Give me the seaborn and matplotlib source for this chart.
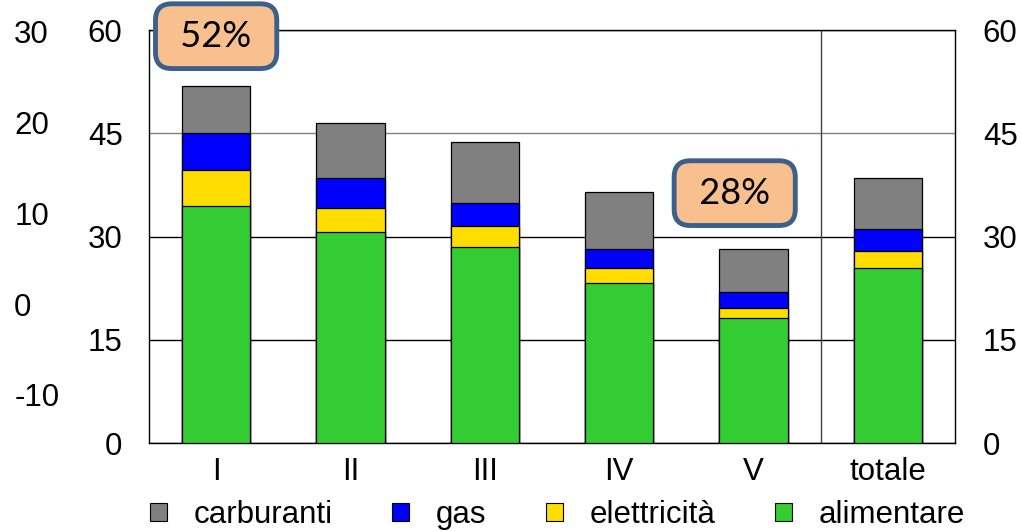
import numpy as np
import pandas as pd
import matplotlib
matplotlib.use("Agg")
import matplotlib.pyplot as plt
import seaborn as sns
from matplotlib.patches import Patch

# data (stacked components, in order bottom -> top)
quintili = ['I', 'II', 'III', 'IV', 'V', 'totale']
alimentare = [34.4, 30.6, 28.5, 23.2, 18.1, 25.4]
elettricita = [5.3, 3.6, 3.0, 2.2, 1.5, 2.5]
gas = [5.3, 4.3, 3.4, 2.8, 2.3, 3.2]
carburanti = [6.8, 8.0, 8.8, 8.2, 6.3, 7.4]

left_ticks = [0, 15, 30, 45, 60]
outer_ticks = [-10, 0, 10, 20, 30]
callouts = [('52%', 0, 59.1), ('28%', 3.86, 36.3)]

colors = {'carburanti': '#808080', 'gas': '#0000FF',
          'elettricità': '#FFDD00', 'alimentare': '#33CC33'}

sns.set_style("white")
plt.rcParams['font.family'] = ['Liberation Sans', 'DejaVu Sans']
plt.rcParams['axes.unicode_minus'] = False
plt.rcParams['text.color'] = 'black'
plt.rcParams['xtick.color'] = 'black'
plt.rcParams['ytick.color'] = 'black'

FS = 22.5

df = pd.DataFrame({'quintile': quintili, 'alimentare': alimentare,
                   'elettricità': elettricita, 'gas': gas, 'carburanti': carburanti})
# cumulative tops, drawn tallest first so each layer covers the one below
df['c_alim'] = df['alimentare']
df['c_elet'] = df['c_alim'] + df['elettricità']
df['c_gas'] = df['c_elet'] + df['gas']
df['c_carb'] = df['c_gas'] + df['carburanti']

fig = plt.figure(figsize=(10.21, 5.31), dpi=100)
ax = fig.add_axes([0.1459, 0.1657, 0.7895, 0.7778])

for col, name in [('c_carb', 'carburanti'), ('c_gas', 'gas'),
                  ('c_elet', 'elettricità'), ('c_alim', 'alimentare')]:
    sns.barplot(data=df, x='quintile', y=col, color=colors[name], saturation=1,
                width=0.51, edgecolor='black', linewidth=0.9, ax=ax, zorder=3)

ax.set_ylim(0, 60)
ax.set_xlim(-0.5, 5.5)
ax.set_yticks(left_ticks)
ax.set_xlabel('')
ax.set_ylabel('')
ax.grid(axis='y', color='black', linewidth=1.0, zorder=0)
gl = ax.yaxis.get_gridlines()
gl[3].set_color('#808080')
ax.axvline(4.5, color='#404040', linewidth=1.0, zorder=1)
for s in ax.spines.values():
    s.set_color('black')
    s.set_linewidth(1.0)
ax.tick_params(axis='y', length=0, pad=19, labelsize=FS)
ax.tick_params(axis='x', length=0, pad=10, labelsize=FS)

# right axis, same scale
axr = ax.twinx()
axr.set_ylim(0, 60)
axr.set_yticks(left_ticks)
axr.tick_params(axis='y', length=0, pad=20, labelsize=FS)
for s in axr.spines.values():
    s.set_visible(False)

# outer left axis
axo = ax.twinx()
axo.set_ylim(-15.3, 30.2)
axo.set_yticks(outer_ticks)
axo.yaxis.tick_left()
axo.tick_params(axis='y', length=0, pad=97, labelsize=FS)
for lab in axo.get_yticklabels():
    lab.set_horizontalalignment('left')
for s in axo.spines.values():
    s.set_visible(False)

for txt, x, y in callouts:
    ax.text(x, y, ' ' + txt + ' ', ha='center', va='center', fontsize=26,
            family=['Lato', 'DejaVu Sans'], zorder=10, clip_on=False,
            bbox=dict(boxstyle='round,pad=0.44,rounding_size=0.45', fc='#F9C08F',
                      ec='#3C5F8C', lw=3.5))

handles = [Patch(facecolor=colors[n], edgecolor='black', linewidth=0.8, label=n)
           for n in ['carburanti', 'gas', 'elettricità', 'alimentare']]
fig.legend(handles=handles, loc='center', bbox_to_anchor=(0.546, 0.030), ncol=4,
           frameon=False, fontsize=FS, handlelength=0.55, handleheight=0.55,
           handletextpad=0.85, columnspacing=1.9, borderpad=0)

fig.savefig('out.png', dpi=100)
